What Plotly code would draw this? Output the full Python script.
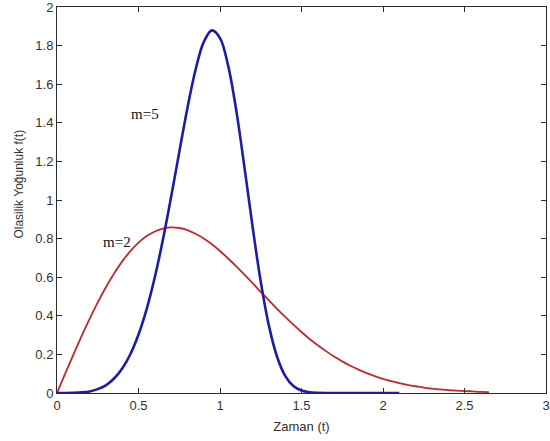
import plotly.graph_objects as go

# Time axis samples (t)
t = [0.00, 0.05, 0.10, 0.15, 0.20, 0.25, 0.30, 0.35, 0.40, 0.45,
     0.50, 0.55, 0.60, 0.65, 0.70, 0.75, 0.80, 0.85, 0.90, 0.95,
     1.00, 1.05, 1.10, 1.15, 1.20, 1.25, 1.30, 1.35, 1.40, 1.45,
     1.50, 1.55, 1.60, 1.65, 1.70, 1.75, 1.80, 1.85, 1.90, 1.95,
     2.00, 2.05, 2.10, 2.15, 2.20, 2.25, 2.30, 2.35, 2.40, 2.45,
     2.50, 2.55, 2.60, 2.65]

# Probability density, shape parameter m=2
f_m2 = [0.000, 0.100, 0.198, 0.293, 0.384, 0.470, 0.548, 0.619, 0.682, 0.735,
        0.779, 0.813, 0.837, 0.852, 0.858, 0.855, 0.844, 0.825, 0.801, 0.771,
        0.736, 0.697, 0.656, 0.613, 0.569, 0.524, 0.480, 0.436, 0.394, 0.354,
        0.316, 0.280, 0.247, 0.217, 0.189, 0.164, 0.141, 0.121, 0.103, 0.087,
        0.073, 0.061, 0.051, 0.042, 0.035, 0.028, 0.023, 0.019, 0.015, 0.012,
        0.010, 0.008, 0.006, 0.005]

# Probability density, shape parameter m=5
f_m5 = [0.000, 0.000, 0.001, 0.003, 0.008, 0.020, 0.040, 0.075, 0.127, 0.201,
        0.303, 0.435, 0.600, 0.795, 1.015, 1.248, 1.476, 1.675, 1.818, 1.879,
        1.839, 1.696, 1.463, 1.170, 0.861, 0.577, 0.349, 0.188, 0.089, 0.036,
        0.013, 0.004, 0.001, 0.000, 0.000, 0.000, 0.000, 0.000, 0.000, 0.000,
        0.000, 0.000, 0.000]

x_ticks = [0, 0.5, 1, 1.5, 2, 2.5, 3]
x_tick_text = ["0", "0.5", "1", "1.5", "2", "2.5", "3"]
y_ticks = [0, 0.2, 0.4, 0.6, 0.8, 1.0, 1.2, 1.4, 1.6, 1.8, 2.0]
y_tick_text = ["0", "0.2", "0.4", "0.6", "0.8", "1", "1.2", "1.4", "1.6", "1.8", "2"]

SANS = "Liberation Sans, Arial, sans-serif"
SERIF = "Liberation Serif, Times New Roman, serif"
TEXT_COLOR = "#333333"

fig = go.Figure()
fig.add_trace(go.Scatter(x=t, y=f_m2, mode="lines", line=dict(color="#c4272c", width=1.8, shape="spline"),
                         showlegend=False, hoverinfo="skip"))
fig.add_trace(go.Scatter(x=t[:len(f_m5)], y=f_m5, mode="lines", line=dict(color="#1c1ca8", width=2.6, shape="spline"),
                         showlegend=False, hoverinfo="skip"))

axis_common = dict(
    showgrid=False, zeroline=False, showline=True, linecolor="#2b2b2b", linewidth=1,
    mirror="ticks", ticks="inside", ticklen=5, tickcolor="#2b2b2b", tickwidth=1,
    ticklabeloverflow="allow",
    tickfont=dict(family=SANS, size=13, color=TEXT_COLOR),
)

fig.update_xaxes(range=[0, 3], tickvals=x_ticks, ticktext=x_tick_text,
                 title=dict(text="Zaman (t)", standoff=10,
                            font=dict(family=SANS, size=13, color=TEXT_COLOR)),
                 **axis_common)
fig.update_yaxes(range=[0, 2], tickvals=y_ticks, ticktext=y_tick_text, **axis_common)

# Vertical axis caption, placed as rotated text beside the tick labels
fig.add_annotation(xref="paper", x=0, xshift=-47, y=1.08, text="Olasilik Yoğunluk f(t)",
                   textangle=-90, showarrow=False,
                   font=dict(family=SANS, size=12, color=TEXT_COLOR))

fig.add_annotation(x=0.54, y=1.445, text="m=5", showarrow=False,
                   font=dict(family=SERIF, size=15, color="#111111"))
fig.add_annotation(x=0.37, y=0.78, text="m=2", showarrow=False,
                   font=dict(family=SERIF, size=15, color="#111111"))

fig.update_layout(
    width=550, height=441,
    margin=dict(l=57, r=0, t=7, b=48),
    paper_bgcolor="white", plot_bgcolor="white",
)

fig.write_html("out.html")
